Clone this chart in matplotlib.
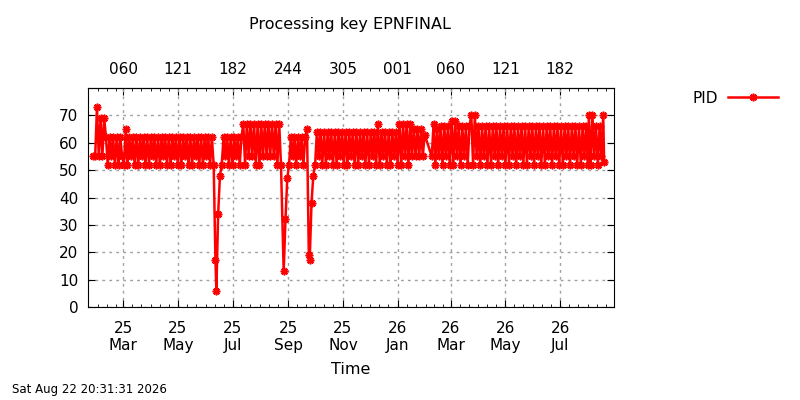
import pandas as pd
import matplotlib
matplotlib.use("Agg")
import matplotlib.pyplot as plt
import matplotlib.dates as mdates

# PID values, sampled every 2 days within each run
run_a_start = "2025-01-27"
run_a = [55, 55, 73, 55, 69, 55, 69, 62, 52, 62, 55, 62, 52, 62, 52, 62, 55, 52, 65, 52,
         62, 55, 62, 52, 62, 52, 62, 55, 62, 52, 62, 52, 62, 55, 62, 52, 62, 52, 62, 55,
         62, 52, 62, 52, 62, 55, 62, 52, 62, 52, 62, 55, 62, 52, 62, 52, 62, 55, 62, 52,
         62, 52, 62, 55, 62, 52, 62, 52]
run_b_start = "2025-06-19"
run_b = [52, 62, 55, 62, 52, 62, 52, 62, 55, 62, 52, 62]
run_c_start = "2025-07-13"
run_c = [67, 52, 67, 55, 67, 55, 67, 52, 67, 52, 67, 55, 67, 55, 67, 55, 67, 55, 67, 52,
         67, 52]
run_d_start = "2025-09-02"
run_d = [52, 62, 55, 62, 52, 62, 55, 62, 52, 62]
run_e_start = "2025-10-01"
run_e = [52, 64, 55, 64, 52, 64, 52, 64, 55, 64, 52, 64, 52, 64, 55, 64, 52, 64, 52, 64,
         55, 64, 52, 64, 52, 64, 55, 64, 52, 64, 52, 64, 55, 64]
run_f_start = "2025-12-08"
run_f = [52, 67, 52, 64, 55, 64, 52, 64, 52, 64, 55, 64, 52]
run_g_start = "2026-01-03"
run_g = [67, 52, 67, 55, 67, 52, 67]
run_h_start = "2026-01-17"
run_h = [55, 65, 55, 65, 55, 65, 55, 63]
run_i_start = "2026-02-08"
run_i = [55, 67, 52, 65, 55, 66, 52, 66, 55, 66, 52]
run_j_start = "2026-03-02"
run_j = [68, 52, 68, 55, 66, 52, 66, 55, 66, 52, 66, 70, 52, 70, 55]
run_k_start = "2026-04-01"
run_k = [66, 52, 66, 55, 66, 52, 66, 52, 66, 55, 66, 52, 66, 55, 66, 52, 66, 52, 66, 55,
         66, 52, 66, 55, 66, 52, 66, 52, 66, 55, 66, 52, 66, 55, 66, 52, 66, 52, 66, 55,
         66, 52, 66, 55, 66, 52, 66, 52, 66, 55, 66, 52, 66, 55, 66, 52, 66, 52, 66, 55,
         66, 52]
run_l_start = "2026-08-02"
run_l = [70, 52, 70, 55, 66, 52, 66, 55, 70]

# single points (the drops and the last sample)
dip_dates = ["2025-06-12", "2025-06-13", "2025-06-15", "2025-06-17",
             "2025-08-27", "2025-08-29", "2025-08-31",
             "2025-09-22", "2025-09-24", "2025-09-25", "2025-09-27", "2025-09-29",
             "2026-08-19"]
dip_vals = [17, 6, 34, 48,
            13, 32, 47,
            65, 19, 17, 38, 48,
            53]

runs = [(run_a_start, run_a), (run_b_start, run_b), (run_c_start, run_c),
        (run_d_start, run_d), (run_e_start, run_e), (run_f_start, run_f),
        (run_g_start, run_g), (run_h_start, run_h), (run_i_start, run_i),
        (run_j_start, run_j), (run_k_start, run_k), (run_l_start, run_l)]

frames = []
for start, vals in runs:
    frames.append(pd.DataFrame({"t": pd.date_range(start, periods=len(vals), freq="2D"), "pid": vals}))
frames.append(pd.DataFrame({"t": pd.to_datetime(dip_dates), "pid": dip_vals}))
df = pd.concat(frames).sort_values("t")

plt.rcParams["font.family"] = "DejaVu Sans"
plt.rcParams["font.size"] = 11

fig = plt.figure(figsize=(8, 4), dpi=100)
ax = fig.add_axes([0.11, 0.2325, 0.6575, 0.5475])

ax.plot(df["t"], df["pid"], color="#ff0000", lw=1.8, marker=(8, 2, 0),
        markersize=5.5, markeredgewidth=1.2, label="PID")

ax.set_xlim(pd.Timestamp("2025-01-21"), pd.Timestamp("2026-08-30"))
ax.set_ylim(0, 80)
ax.set_yticks(range(0, 71, 10))

ax.xaxis.set_major_locator(mdates.MonthLocator(bymonth=[1, 3, 5, 7, 9, 11]))
ax.xaxis.set_major_formatter(mdates.DateFormatter("%y\n%b"))
ax.xaxis.set_minor_locator(mdates.DayLocator(bymonthday=[1, 11, 21]))

top = ax.secondary_xaxis("top")
top.xaxis.set_major_locator(mdates.MonthLocator(bymonth=[1, 3, 5, 7, 9, 11]))
top.xaxis.set_major_formatter(mdates.DateFormatter("%j"))
top.xaxis.set_minor_locator(mdates.DayLocator(bymonthday=[1, 11, 21]))
top.tick_params(which="major", direction="in", length=5, pad=8, labelsize=11)
top.tick_params(which="minor", direction="in", length=2.5)

ax.tick_params(which="major", direction="in", length=5, right=True, labelsize=11)
ax.tick_params(which="minor", direction="in", length=2.5)
ax.tick_params(axis="x", pad=10)
ax.tick_params(axis="y", pad=7)

ax.grid(True, which="major", color="#a0a0a0", linestyle=(0, (2, 3)), lw=1)

ax.set_xlabel("Time", labelpad=6, fontsize=11.5)
fig.text(0.4375, 0.94, "Processing key EPNFINAL", ha="center", va="center", fontsize=11.5)
fig.text(0.015, 0.025, "Sat Aug 22 20:31:31 2026", ha="left", va="center", fontsize=8.5)

ax.legend(loc="upper right", bbox_to_anchor=(0.99, 0.808), bbox_transform=fig.transFigure,
          frameon=False, markerfirst=False, handlelength=3.3, handletextpad=0.65,
          fontsize=11)

fig.savefig("out.png", dpi=100)
